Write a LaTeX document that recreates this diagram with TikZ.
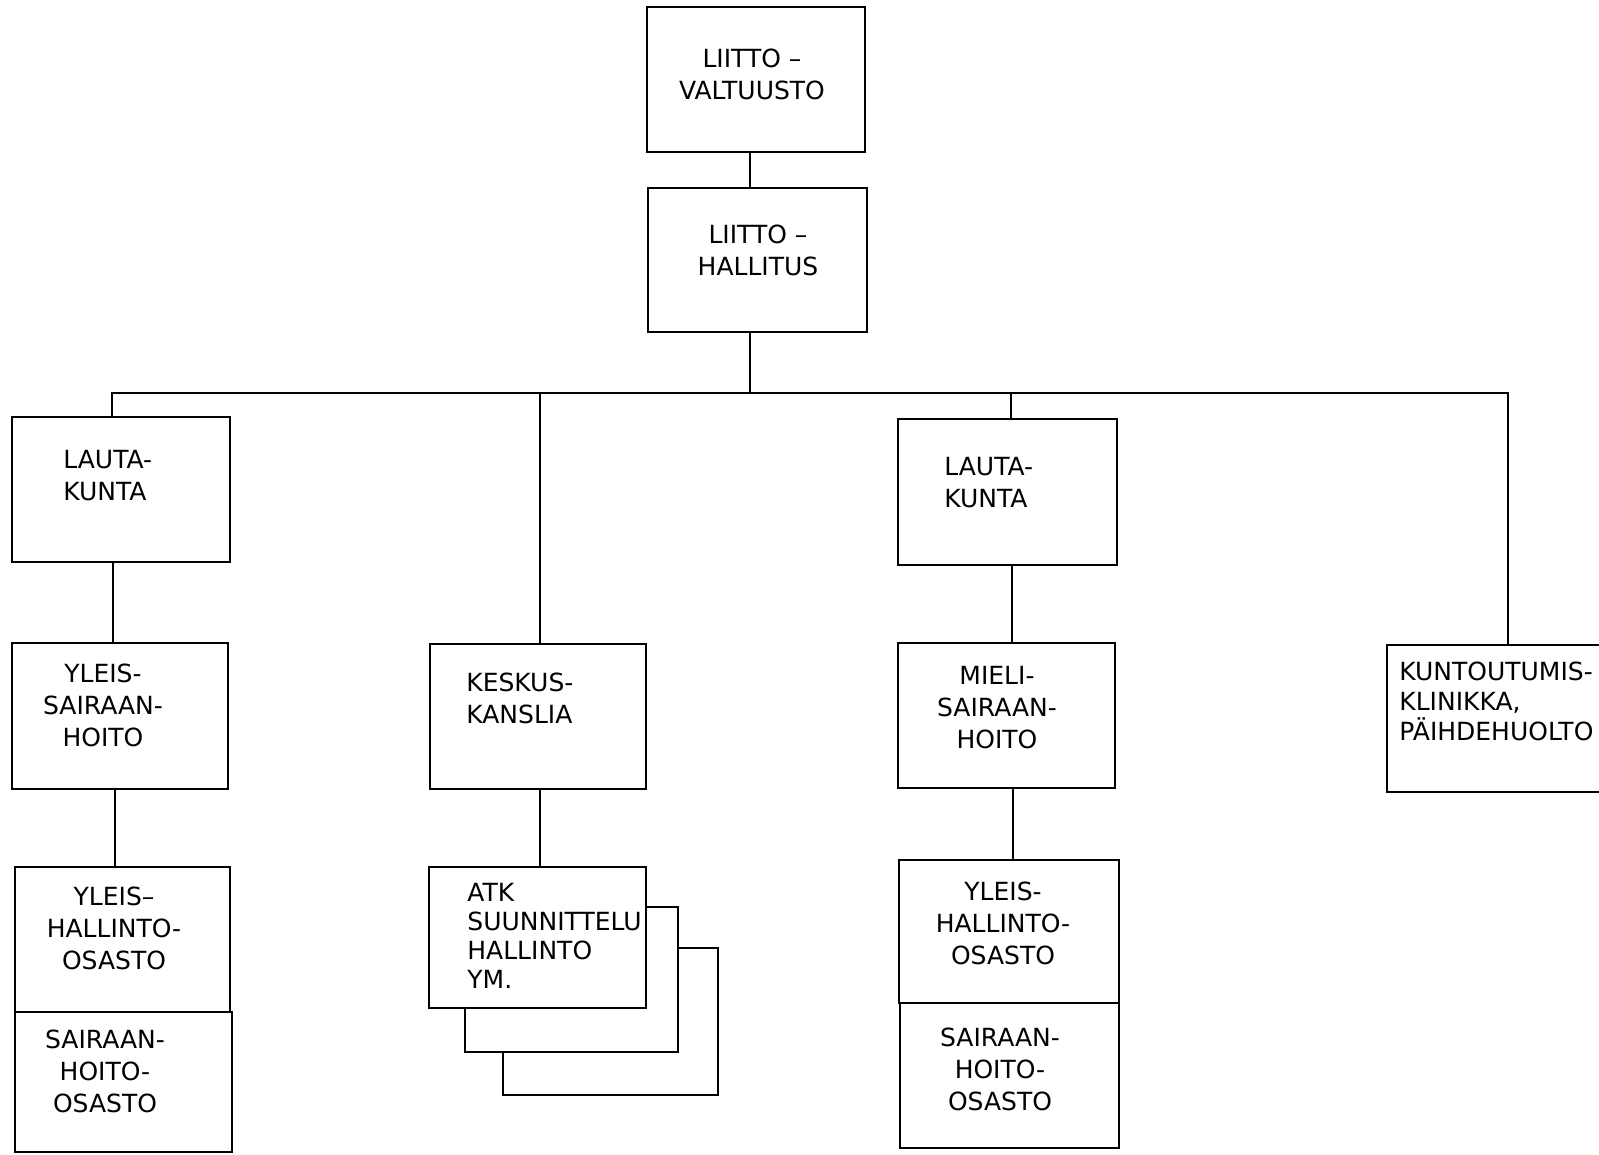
\documentclass[tikz,border=0pt]{standalone}
\usepackage{fontspec}
\setmainfont{DejaVu Sans}
\begin{document}
\begin{tikzpicture}[x=0.5pt,y=-0.5pt,
  box/.style={draw=black, line width=1.4pt, fill=white, inner sep=0pt, outer sep=0pt, anchor=north west},
  lbl/.style={font=\fontsize{12.5}{16}\selectfont, inner sep=0pt},
  con/.style={draw=black, line width=1.4pt}]
\useasboundingbox (0,0) rectangle (1599,1155);
\fill[white] (0,0) rectangle (1599,1155);
\clip (0,0) rectangle (1599,1155);
% boxes
\node[box, minimum width=109pt, minimum height=72.5pt] (val) at (647,7) {};
\node[box, minimum width=109.5pt, minimum height=72pt] (hal) at (648,188) {};
\node[box, minimum width=109pt, minimum height=72.5pt] (lk1) at (12,417) {};
\node[box, minimum width=108pt, minimum height=73pt] (ysh) at (12,643) {};
\node[box, minimum width=108pt, minimum height=72.5pt] (kk) at (430,644) {};
\node[box, minimum width=109.5pt, minimum height=73pt] (lk2) at (898,419) {};
\node[box, minimum width=108.5pt, minimum height=72.5pt] (msh) at (898,643) {};
\node[box, minimum width=112pt, minimum height=73.5pt] (kun) at (1387,645) {};
\node[box, minimum width=107.5pt, minimum height=72.5pt] (yho1) at (15,867) {};
\node[box, minimum width=108.5pt, minimum height=70pt] (sho1) at (15,1012) {};
\node[box, minimum width=107.5pt, minimum height=73.5pt] (atk3) at (503,948) {};
\node[box, minimum width=106.5pt, minimum height=72.5pt] (atk2) at (465,907) {};
\node[box, minimum width=108.5pt, minimum height=70.5pt] (atk) at (429,867) {};
\node[box, minimum width=110pt, minimum height=71.5pt] (yho2) at (899,860) {};
\node[box, minimum width=109.5pt, minimum height=72.5pt] (sho2) at (900,1003) {};
% labels
\node[lbl, align=center] (tval) at (752,74) {LIITTO –\\VALTUUSTO};
\node[lbl, align=center] (thal) at (758,250) {LIITTO –\\HALLITUS};
\node[lbl, align=left, anchor=west] (tlk1) at (63,476) {LAUTA-\\KUNTA};
\node[lbl, align=center] (tysh) at (103,705) {YLEIS-\\SAIRAAN-\\HOITO};
\node[lbl, align=left, anchor=west] (tkk) at (466,698) {KESKUS-\\KANSLIA};
\node[lbl, align=left, anchor=west] (tlk2) at (944,483) {LAUTA-\\KUNTA};
\node[lbl, align=center] (tmsh) at (997,708) {MIELI-\\SAIRAAN-\\HOITO};
\node[lbl, align=left, anchor=west, font=\fontsize{12.5}{15}\selectfont] (tkun) at (1399,701) {KUNTOUTUMIS-\\KLINIKKA,\\PÄIHDEHUOLTO};
\node[lbl, align=center] (tyho1) at (114,928) {YLEIS–\\HALLINTO-\\OSASTO};
\node[lbl, align=center] (tsho1) at (105,1071) {SAIRAAN-\\HOITO-\\OSASTO};
\node[lbl, align=left, anchor=west, font=\fontsize{12.5}{14.5}\selectfont] (tatk) at (467,936) {ATK\\SUUNNITTELU\\HALLINTO\\YM.};
\node[lbl, align=center] (tyho2) at (1003,923) {YLEIS-\\HALLINTO-\\OSASTO};
\node[lbl, align=center] (tsho2) at (1000,1069) {SAIRAAN-\\HOITO-\\OSASTO};
% connectors
\coordinate (top) at (750,0);
\coordinate (bus) at (750,393);
\coordinate (b1) at (112,393);
\coordinate (b2) at (540,393);
\coordinate (b3) at (1011,393);
\coordinate (b4) at (1508,393);
\coordinate (c1) at (113,0);
\coordinate (c2) at (115,0);
\coordinate (c3) at (1012,0);
\coordinate (c4) at (1013,0);
\draw[con] (val.south -| top) -- (hal.north -| top);
\draw[con] (hal.south -| bus) -- (bus);
\draw[con, line cap=rect] (b1) -- (b4);
\draw[con] (b1) -- (lk1.north -| b1);
\draw[con] (b2) -- (kk.north -| b2);
\draw[con] (b3) -- (lk2.north -| b3);
\draw[con] (b4) -- (kun.north -| b4);
\draw[con] (lk1.south -| c1) -- (ysh.north -| c1);
\draw[con] (ysh.south -| c2) -- (yho1.north -| c2);
\draw[con] (kk.south -| b2) -- (atk.north -| b2);
\draw[con] (lk2.south -| c3) -- (msh.north -| c3);
\draw[con] (msh.south -| c4) -- (yho2.north -| c4);
\end{tikzpicture}
\end{document}
